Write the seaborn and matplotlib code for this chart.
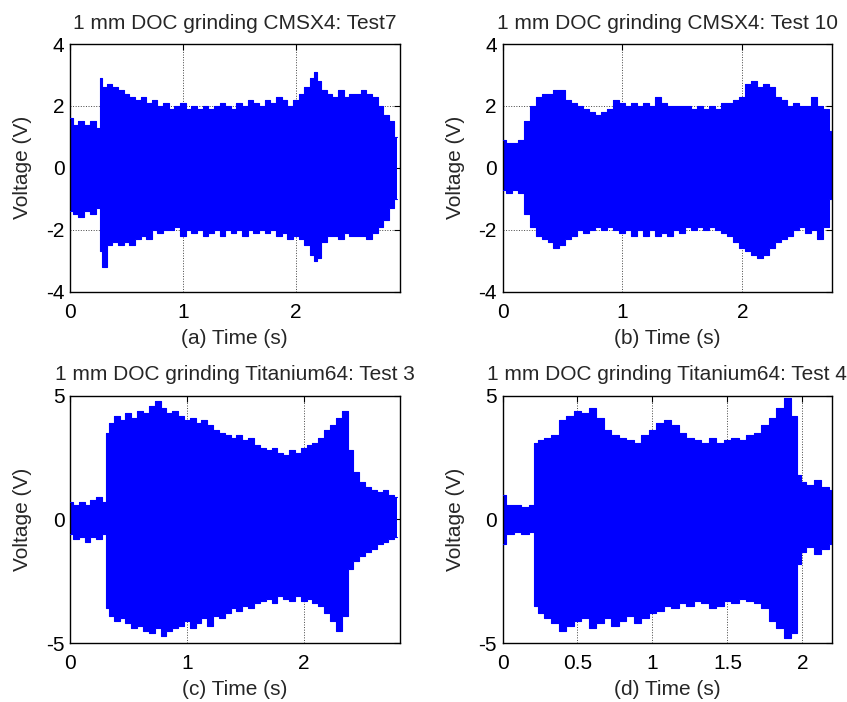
import matplotlib
matplotlib.use("Agg")
import matplotlib.pyplot as plt
import seaborn as sns

# ---------------------------------------------------------------------------
# Signal envelopes (upper / lower voltage vs time)
# ---------------------------------------------------------------------------
t_a = [0.00, 0.05, 0.10, 0.15, 0.20, 0.26, 0.27, 0.30, 0.35, 0.40,
       0.45, 0.50, 0.55, 0.60, 0.65, 0.70, 0.75, 0.80, 0.85, 0.90,
       0.95, 1.00, 1.05, 1.10, 1.15, 1.20, 1.25, 1.30, 1.35, 1.40,
       1.45, 1.50, 1.55, 1.60, 1.65, 1.70, 1.75, 1.80, 1.85, 1.90,
       1.95, 2.00, 2.05, 2.10, 2.15, 2.18, 2.20, 2.25, 2.30, 2.35,
       2.40, 2.45, 2.50, 2.55, 2.60, 2.65, 2.70, 2.75, 2.80, 2.85,
       2.90]
upper_a = [1.6, 1.4, 1.5, 1.4, 1.5, 1.3, 2.9, 2.6, 2.7, 2.6,
           2.5, 2.4, 2.3, 2.2, 2.3, 2.1, 2.2, 2.0, 2.1, 1.9,
           2.0, 2.1, 1.9, 2.0, 1.9, 2.0, 1.9, 2.0, 2.1, 2.0,
           1.9, 2.1, 2.0, 2.2, 2.1, 2.0, 2.2, 2.1, 2.3, 2.2,
           2.0, 2.2, 2.4, 2.6, 2.9, 3.1, 2.8, 2.5, 2.4, 2.3,
           2.5, 2.3, 2.4, 2.4, 2.5, 2.4, 2.3, 2.0, 1.7, 1.5,
           1.0]
lower_a = [-1.4, -1.5, -1.6, -1.4, -1.5, -1.3, -2.7, -3.2, -2.5, -2.4,
           -2.5, -2.4, -2.5, -2.3, -2.2, -2.3, -2.0, -2.1, -2.0, -2.0,
           -1.9, -2.2, -2.0, -2.1, -2.0, -2.2, -2.1, -2.0, -2.2, -2.0,
           -2.1, -2.0, -2.2, -2.0, -2.1, -2.0, -2.1, -2.0, -2.2, -2.1,
           -2.3, -2.2, -2.3, -2.5, -2.8, -3.0, -2.9, -2.4, -2.2, -2.2,
           -2.3, -2.1, -2.2, -2.2, -2.2, -2.3, -2.1, -1.9, -1.7, -1.3,
           -1.0]

t_b = [0.00, 0.05, 0.10, 0.15, 0.20, 0.25, 0.30, 0.35, 0.40, 0.45,
       0.50, 0.55, 0.60, 0.65, 0.70, 0.75, 0.80, 0.85, 0.90, 0.95,
       1.00, 1.05, 1.10, 1.15, 1.20, 1.25, 1.30, 1.35, 1.40, 1.45,
       1.50, 1.55, 1.60, 1.65, 1.70, 1.75, 1.80, 1.85, 1.90, 1.95,
       2.00, 2.05, 2.10, 2.15, 2.20, 2.25, 2.30, 2.35, 2.40, 2.45,
       2.50, 2.55, 2.60, 2.65, 2.70, 2.75]
upper_b = [0.9, 0.8, 0.8, 0.9, 1.5, 2.0, 2.3, 2.4, 2.4, 2.5,
           2.5, 2.2, 2.1, 2.0, 1.9, 1.8, 1.7, 1.8, 1.9, 2.2,
           2.1, 2.0, 2.1, 2.0, 2.1, 2.0, 2.3, 2.1, 2.0, 2.0,
           2.0, 2.0, 1.9, 2.0, 1.9, 2.0, 1.9, 2.1, 2.1, 2.2,
           2.3, 2.7, 2.8, 2.6, 2.7, 2.6, 2.3, 2.2, 2.0, 2.1,
           2.0, 2.0, 2.3, 2.0, 1.9, 1.2]
lower_b = [-0.7, -0.8, -0.7, -0.8, -1.5, -1.9, -2.2, -2.3, -2.4, -2.6,
           -2.5, -2.3, -2.2, -2.0, -2.1, -2.0, -1.9, -2.0, -1.9, -2.0,
           -2.1, -2.0, -2.2, -2.0, -2.2, -2.0, -2.2, -2.1, -2.2, -2.0,
           -2.1, -1.9, -2.0, -1.9, -2.0, -1.9, -2.0, -2.1, -2.2, -2.4,
           -2.6, -2.7, -2.8, -2.9, -2.8, -2.6, -2.4, -2.3, -2.2, -2.0,
           -1.9, -2.1, -2.0, -2.3, -1.9, -1.0]

t_c = [0.00, 0.05, 0.10, 0.15, 0.20, 0.25, 0.30, 0.32, 0.35, 0.40,
       0.45, 0.50, 0.55, 0.60, 0.65, 0.70, 0.75, 0.80, 0.85, 0.90,
       0.95, 1.00, 1.05, 1.10, 1.15, 1.20, 1.25, 1.30, 1.35, 1.40,
       1.45, 1.50, 1.55, 1.60, 1.65, 1.70, 1.75, 1.80, 1.85, 1.90,
       1.95, 2.00, 2.05, 2.10, 2.15, 2.20, 2.25, 2.30, 2.35, 2.40,
       2.45, 2.50, 2.55, 2.60, 2.65, 2.70, 2.75, 2.80]
upper_c = [0.7, 0.6, 0.7, 0.6, 0.8, 0.9, 0.7, 3.5, 3.9, 4.2,
           4.0, 4.3, 4.1, 4.4, 4.3, 4.6, 4.8, 4.5, 4.3, 4.4,
           4.2, 4.0, 4.1, 3.9, 4.0, 3.8, 3.6, 3.5, 3.4, 3.3,
           3.4, 3.2, 3.3, 3.0, 2.9, 2.8, 2.9, 2.7, 2.6, 2.8,
           2.7, 2.9, 3.0, 3.1, 3.3, 3.6, 3.8, 4.1, 4.4, 2.8,
           1.9, 1.5, 1.3, 1.2, 1.1, 1.2, 1.0, 0.9]
lower_c = [-0.6, -0.8, -0.7, -0.9, -0.7, -0.8, -0.6, -3.6, -3.9, -4.1,
           -4.0, -4.2, -4.4, -4.3, -4.5, -4.6, -4.4, -4.7, -4.5, -4.4,
           -4.3, -4.1, -4.4, -4.2, -4.0, -4.3, -3.9, -4.0, -3.8, -3.6,
           -3.7, -3.5, -3.6, -3.4, -3.3, -3.2, -3.4, -3.1, -3.2, -3.3,
           -3.1, -3.3, -3.2, -3.4, -3.5, -3.8, -4.1, -4.5, -3.9, -2.0,
           -1.7, -1.5, -1.3, -1.2, -1.0, -0.9, -0.8, -0.7]

t_d = [0.00, 0.05, 0.10, 0.15, 0.20, 0.22, 0.25, 0.30, 0.35, 0.40,
       0.45, 0.50, 0.55, 0.60, 0.65, 0.70, 0.75, 0.80, 0.85, 0.90,
       0.95, 1.00, 1.05, 1.10, 1.15, 1.20, 1.25, 1.30, 1.35, 1.40,
       1.45, 1.50, 1.55, 1.60, 1.65, 1.70, 1.75, 1.80, 1.85, 1.90,
       1.95, 1.98, 2.00, 2.05, 2.10, 2.15, 2.20]
upper_d = [1.0, 0.6, 0.6, 0.5, 0.6, 3.1, 3.2, 3.3, 3.4, 4.0,
           4.2, 4.4, 4.3, 4.5, 4.1, 3.6, 3.4, 3.3, 3.2, 3.1,
           3.4, 3.6, 3.9, 4.0, 3.8, 3.5, 3.3, 3.2, 3.1, 3.3,
           3.1, 3.2, 3.3, 3.2, 3.4, 3.5, 3.8, 4.1, 4.5, 4.9,
           4.2, 1.8, 1.5, 1.4, 1.6, 1.3, 1.2]
lower_d = [-1.0, -0.6, -0.5, -0.6, -0.5, -3.5, -3.8, -4.0, -4.2, -4.5,
           -4.3, -4.1, -4.0, -4.4, -4.2, -4.0, -4.3, -4.1, -3.9, -4.2,
           -4.0, -3.8, -3.7, -3.5, -3.6, -3.4, -3.5, -3.3, -3.4, -3.6,
           -3.5, -3.3, -3.4, -3.2, -3.3, -3.4, -3.6, -4.1, -4.4, -4.8,
           -4.6, -1.8, -1.3, -1.1, -1.4, -1.2, -1.0]

titles = [
    "1 mm DOC grinding CMSX4: Test7",
    "1 mm DOC grinding CMSX4: Test 10",
    "1 mm DOC grinding Titanium64: Test 3",
    "1 mm DOC grinding Titanium64: Test 4",
]
xlabels = ["(a) Time (s)", "(b) Time (s)", "(c) Time (s)", "(d) Time (s)"]
x_max = [2.92, 2.75, 2.82, 2.2]
x_ticks = [[0, 1, 2], [0, 1, 2], [0, 1, 2], [0, 0.5, 1, 1.5, 2]]
x_ticklabels = [["0", "1", "2"], ["0", "1", "2"], ["0", "1", "2"],
                ["0", "0.5", "1", "1.5", "2"]]
y_lim = [4, 4, 5, 5]
y_ticks = [[-4, -2, 0, 2, 4], [-4, -2, 0, 2, 4], [-5, 0, 5], [-5, 0, 5]]

series = [(t_a, upper_a, lower_a), (t_b, upper_b, lower_b),
          (t_c, upper_c, lower_c), (t_d, upper_d, lower_d)]

sns.set_style("white")
plt.rcParams["font.family"] = ["Liberation Sans", "DejaVu Sans"]

fig = plt.figure(figsize=(8.47, 7.02), dpi=100)
positions = [
    [0.0826, 0.5845, 0.3891, 0.3528],
    [0.5933, 0.5845, 0.3894, 0.3528],
    [0.0826, 0.0840, 0.3891, 0.3523],
    [0.5933, 0.0840, 0.3894, 0.3523],
]

for i, pos in enumerate(positions):
    ax = fig.add_axes(pos)
    t, up, lo = series[i]
    ax.fill_between(t, lo, up, step="mid", color="#0000ff", lw=0, zorder=2)
    sns.lineplot(x=t, y=up, ax=ax, color="#0000ff", lw=0.8,
                 drawstyle="steps-mid", zorder=3)
    sns.lineplot(x=t, y=lo, ax=ax, color="#0000ff", lw=0.8,
                 drawstyle="steps-mid", zorder=3)

    ax.set_xlim(0, x_max[i])
    ax.set_ylim(-y_lim[i], y_lim[i])
    ax.set_xticks(x_ticks[i])
    ax.set_xticklabels(x_ticklabels[i])
    ax.set_yticks(y_ticks[i])
    ax.set_yticklabels([str(v) for v in y_ticks[i]])

    ax.grid(True, linestyle=":", color="#444444", lw=0.7)
    ax.set_axisbelow(True)
    ax.tick_params(axis="both", direction="in", top=True, right=True,
                   length=4, width=0.8, labelsize=15, colors="black")
    ax.tick_params(axis="x", pad=8)
    ax.tick_params(axis="y", pad=4)
    for sp in ax.spines.values():
        sp.set_visible(True)
        sp.set_color("black")
        sp.set_linewidth(1.0)

    ax.set_title(titles[i], fontsize=15, pad=11)
    ax.set_xlabel(xlabels[i], fontsize=15, labelpad=5)
    ax.set_ylabel("Voltage (V)", fontsize=15, labelpad=10)

fig.savefig("out.png", dpi=100)
